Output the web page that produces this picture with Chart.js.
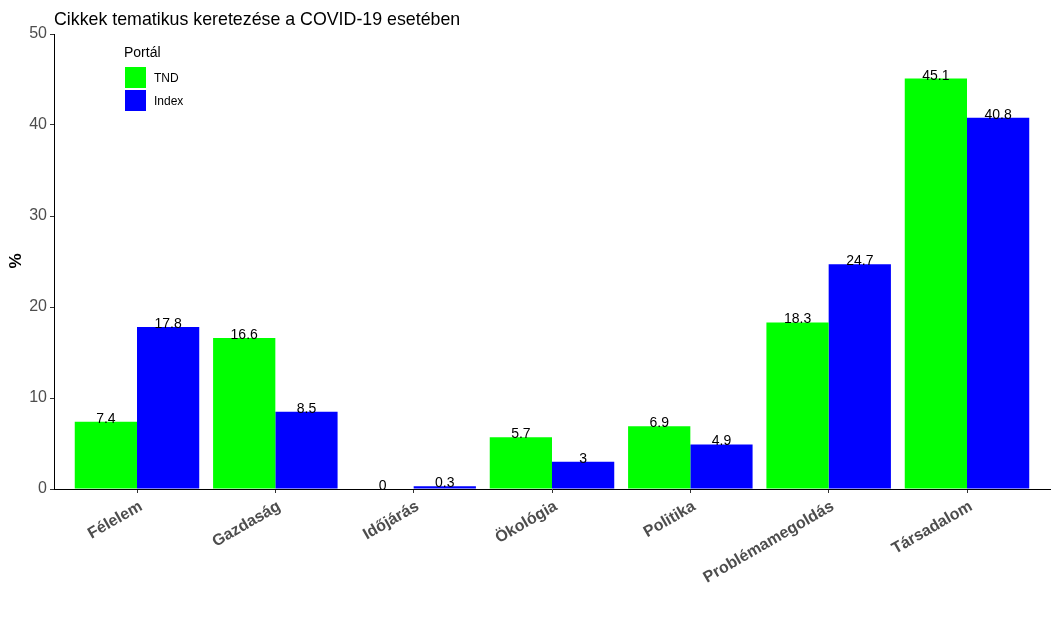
<!DOCTYPE html>
<html>
<head>
<meta charset="utf-8">
<script src="https://cdn.jsdelivr.net/npm/chart.js@4"></script>
<style>
html,body{margin:0;padding:0;background:#fff;}
#wrap{width:1058px;height:625px;position:relative;}
</style>
</head>
<body>
<div id="wrap"><canvas id="c" width="1058" height="625"></canvas></div>
<script>
const categories = ["Félelem","Gazdaság","Időjárás","Ökológia","Politika","Problémamegoldás","Társadalom"];
const tndValues = [7.4, 16.6, 0, 5.7, 6.9, 18.3, 45.1];
const indexValues = [17.8, 8.5, 0.3, 3, 4.9, 24.7, 40.8];
const seriesNames = ["TND", "Index"];
const seriesColors = ["#00FF00", "#0000FF"];
const yTicks = [0, 10, 20, 30, 40, 50];
const chartTitle = "Cikkek tematikus keretezése a COVID-19 esetében";
const legendTitle = "Portál";
const yTitle = "%";

const FONT = "'Liberation Sans', Arial, sans-serif";

const decorPlugin = {
  id: 'decor',
  afterDatasetsDraw(chart) {
    const ctx = chart.ctx;
    ctx.save();
    ctx.font = "14px " + FONT;
    ctx.fillStyle = "#000";
    ctx.textAlign = "center";
    ctx.textBaseline = "alphabetic";
    chart.data.datasets.forEach((ds, di) => {
      const meta = chart.getDatasetMeta(di);
      meta.data.forEach((el, i) => {
        ctx.fillText(String(ds.data[i].y), el.x, el.y + 1);
      });
    });
    ctx.restore();
  },
  afterDraw(chart) {
    const ctx = chart.ctx;
    ctx.save();
    ctx.font = "17.8px " + FONT;
    ctx.fillStyle = "#000";
    ctx.textAlign = "left";
    ctx.textBaseline = "middle";
    ctx.fillText(chartTitle, 54, 20);
    ctx.save();
    ctx.translate(16, 261);
    ctx.rotate(-Math.PI / 2);
    ctx.font = "bold 17px " + FONT;
    ctx.textAlign = "center";
    ctx.textBaseline = "middle";
    ctx.fillText(yTitle, 0, 0);
    ctx.restore();
    ctx.font = "14px " + FONT;
    ctx.textAlign = "left";
    ctx.textBaseline = "middle";
    ctx.fillStyle = "#000";
    ctx.fillText(legendTitle, 124, 53);
    ctx.font = "12px " + FONT;
    chart.data.datasets.forEach((ds, i) => {
      const y0 = 67 + i * 23;
      ctx.fillStyle = ds.backgroundColor;
      ctx.fillRect(125, y0, 21, 21);
      ctx.fillStyle = "#000";
      ctx.fillText(ds.label, 154, y0 + 11.5);
    });
    ctx.restore();
  }
};

const datasets = [tndValues, indexValues].map((vals, s) => ({
  label: seriesNames[s],
  data: vals.map((v, i) => ({x: i, y: v})),
  backgroundColor: seriesColors[s],
  borderWidth: 0,
  categoryPercentage: 0.9,
  barPercentage: 1.0
}));

new Chart(document.getElementById('c'), {
  type: 'bar',
  data: { datasets },
  plugins: [decorPlugin],
  options: {
    responsive: false,
    animation: false,
    devicePixelRatio: 1,
    layout: { padding: { left: 0, right: 8, top: 34, bottom: 0 } },
    plugins: { legend: { display: false }, title: { display: false }, tooltip: { enabled: false } },
    scales: {
      x: {
        type: 'linear',
        offset: false,
        min: -0.6,
        max: categories.length - 1 + 0.6,
        afterBuildTicks(axis) { axis.ticks = categories.map((_, i) => ({ value: i })); },
        afterFit(axis) { axis.height = 136; },
        ticks: {
          autoSkip: false,
          minRotation: 30,
          maxRotation: 30,
          padding: 4,
          labelOffset: 4,
          color: '#4d4d4d',
          font: { family: FONT, size: 16, weight: 'bold' },
          callback: (v) => categories[v]
        },
        grid: { display: true, offset: false, drawOnChartArea: false, drawTicks: true, tickLength: 4, color: '#333' },
        border: { display: true, color: '#000', width: 1 }
      },
      y: {
        min: 0,
        max: 50,
        afterBuildTicks(axis) { axis.ticks = yTicks.map(v => ({ value: v })); },
        afterFit(axis) { axis.width = 54; },
        ticks: {
          padding: 3,
          color: '#4d4d4d',
          font: { family: FONT, size: 16 }
        },
        grid: { display: true, drawOnChartArea: false, drawTicks: true, tickLength: 4, color: '#333' },
        border: { display: true, color: '#000', width: 1 }
      }
    }
  }
});
</script>
</body>
</html>
